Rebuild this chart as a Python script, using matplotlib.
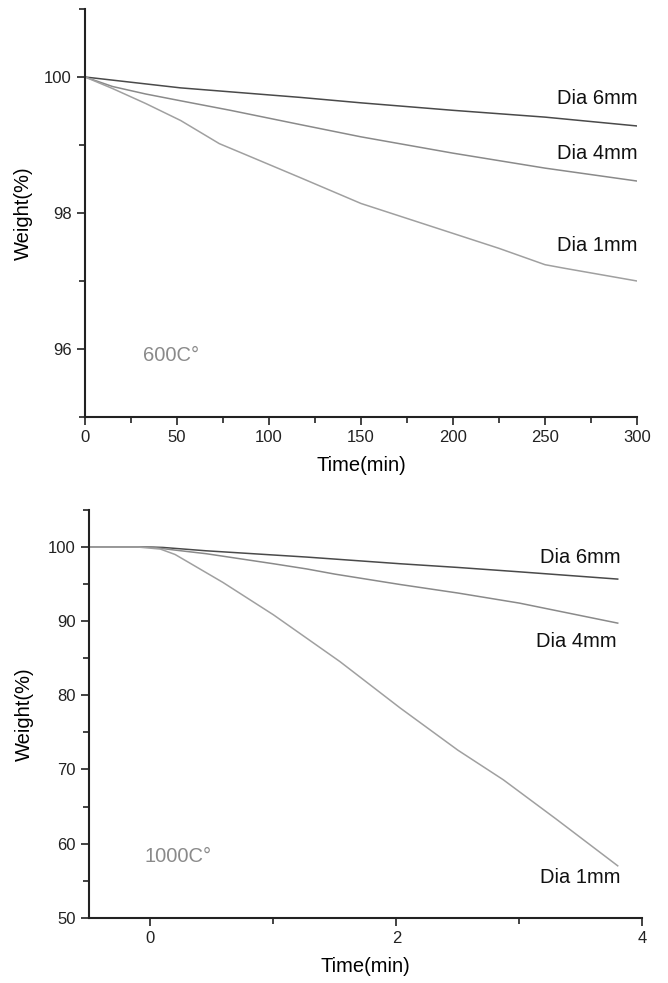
import matplotlib
matplotlib.use("Agg")
import matplotlib.pyplot as plt
from matplotlib.ticker import MultipleLocator

plt.rcParams['font.family'] = ['Liberation Sans', 'DejaVu Sans']

# ---- 600 C panel ----
t600_6 = [0, 52, 117, 150, 200, 250, 300]
w600_6 = [100, 99.84, 99.70, 99.62, 99.51, 99.41, 99.28]
t600_4 = [0, 15, 33, 52, 79, 117, 150, 200, 250, 300]
w600_4 = [100, 99.86, 99.75, 99.65, 99.51, 99.30, 99.12, 98.88, 98.66, 98.47]
t600_1 = [0, 15, 33, 52, 73, 88, 117, 150, 200, 225, 250, 260, 300]
w600_1 = [100, 99.83, 99.61, 99.36, 99.02, 98.85, 98.52, 98.14, 97.70, 97.48, 97.24, 97.19, 97.0]

# ---- 1000 C panel ----
t1000_6 = [-0.5, 0, 0.1, 0.45, 1.27, 2.03, 2.5, 3.0, 3.8]
w1000_6 = [100, 100, 99.95, 99.5, 98.65, 97.75, 97.25, 96.66, 95.68]
t1000_4 = [-0.5, 0, 0.18, 0.455, 1.0, 1.27, 1.5, 2.03, 2.5, 3.0, 3.8]
w1000_4 = [100, 100, 99.63, 99.1, 97.75, 97.05, 96.35, 94.95, 93.8, 92.44, 89.74]
t1000_1 = [-0.5, -0.1, 0.08, 0.2, 0.32, 0.59, 1.0, 1.54, 2.03, 2.5, 2.87, 3.3, 3.8]
w1000_1 = [100, 100, 99.73, 99.0, 97.84, 95.22, 90.86, 84.56, 78.3, 72.6, 68.6, 63.3, 57.0]

labels = ["Dia 6mm", "Dia 4mm", "Dia 1mm"]
temp_labels = ["600C\u00b0", "1000C\u00b0"]

c6, c4, c1 = "#4a4a4a", "#8a8a8a", "#a0a0a0"

W, H = 668, 983
fig = plt.figure(figsize=(W / 100, H / 100), dpi=100)

def style(ax):
    for s in ("top", "right"):
        ax.spines[s].set_visible(False)
    for s in ("left", "bottom"):
        ax.spines[s].set_linewidth(1.5)
        ax.spines[s].set_color("#222222")
    ax.tick_params(which="major", direction="out", length=6, width=1.2,
                   labelsize=12, colors="#222222")
    ax.tick_params(which="minor", direction="out", length=4, width=1.2,
                   colors="#222222")

# top axes
ax1 = fig.add_axes([85 / W, 1 - 417 / H, (637 - 85) / W, (417 - 9) / H])
ax1.plot(t600_6, w600_6, color=c6, lw=1.1)
ax1.plot(t600_4, w600_4, color=c4, lw=1.1)
ax1.plot(t600_1, w600_1, color=c1, lw=1.1)
ax1.set_xlim(0, 300)
ax1.set_ylim(95, 101)
ax1.xaxis.set_major_locator(MultipleLocator(50))
ax1.xaxis.set_minor_locator(MultipleLocator(25))
ax1.set_yticks([96, 98, 100])
ax1.yaxis.set_minor_locator(MultipleLocator(1))
style(ax1)
ax1.set_xlabel("Time(min)", fontsize=14.5, labelpad=8)
ax1.set_ylabel("Weight(%)", fontsize=14.5, labelpad=8)
ax1.text(300.5, 99.69, labels[0], ha="right", va="center", fontsize=14.5, color="#111111", clip_on=False)
ax1.text(300.5, 98.88, labels[1], ha="right", va="center", fontsize=14.5, color="#111111", clip_on=False)
ax1.text(300.5, 97.52, labels[2], ha="right", va="center", fontsize=14.5, color="#111111", clip_on=False)
ax1.text(31.5, 95.91, temp_labels[0], ha="left", va="center", fontsize=14.5, color="#8a8a8a")

# bottom axes
ax2 = fig.add_axes([89 / W, 1 - 917.7 / H, (642.3 - 89) / W, (917.7 - 510) / H])
ax2.plot(t1000_6, w1000_6, color=c6, lw=1.1)
ax2.plot(t1000_4, w1000_4, color=c4, lw=1.1)
ax2.plot(t1000_1, w1000_1, color=c1, lw=1.1)
ax2.set_xlim(-0.5, 4)
ax2.set_ylim(50, 105)
ax2.set_xticks([0, 2, 4])
ax2.set_xticks([1, 3], minor=True)
ax2.set_yticks([50, 60, 70, 80, 90, 100])
ax2.yaxis.set_minor_locator(MultipleLocator(5))
style(ax2)
ax2.set_xlabel("Time(min)", fontsize=14.5, labelpad=8)
ax2.set_ylabel("Weight(%)", fontsize=14.5, labelpad=10)
ax2.text(3.82, 98.56, labels[0], ha="right", va="center", fontsize=14.5, color="#111111")
ax2.text(3.79, 87.2, labels[1], ha="right", va="center", fontsize=14.5, color="#111111")
ax2.text(3.82, 55.4, labels[2], ha="right", va="center", fontsize=14.5, color="#111111")
ax2.text(-0.05, 58.25, temp_labels[1], ha="left", va="center", fontsize=14.5, color="#8a8a8a")

fig.savefig("out.png", dpi=100)
